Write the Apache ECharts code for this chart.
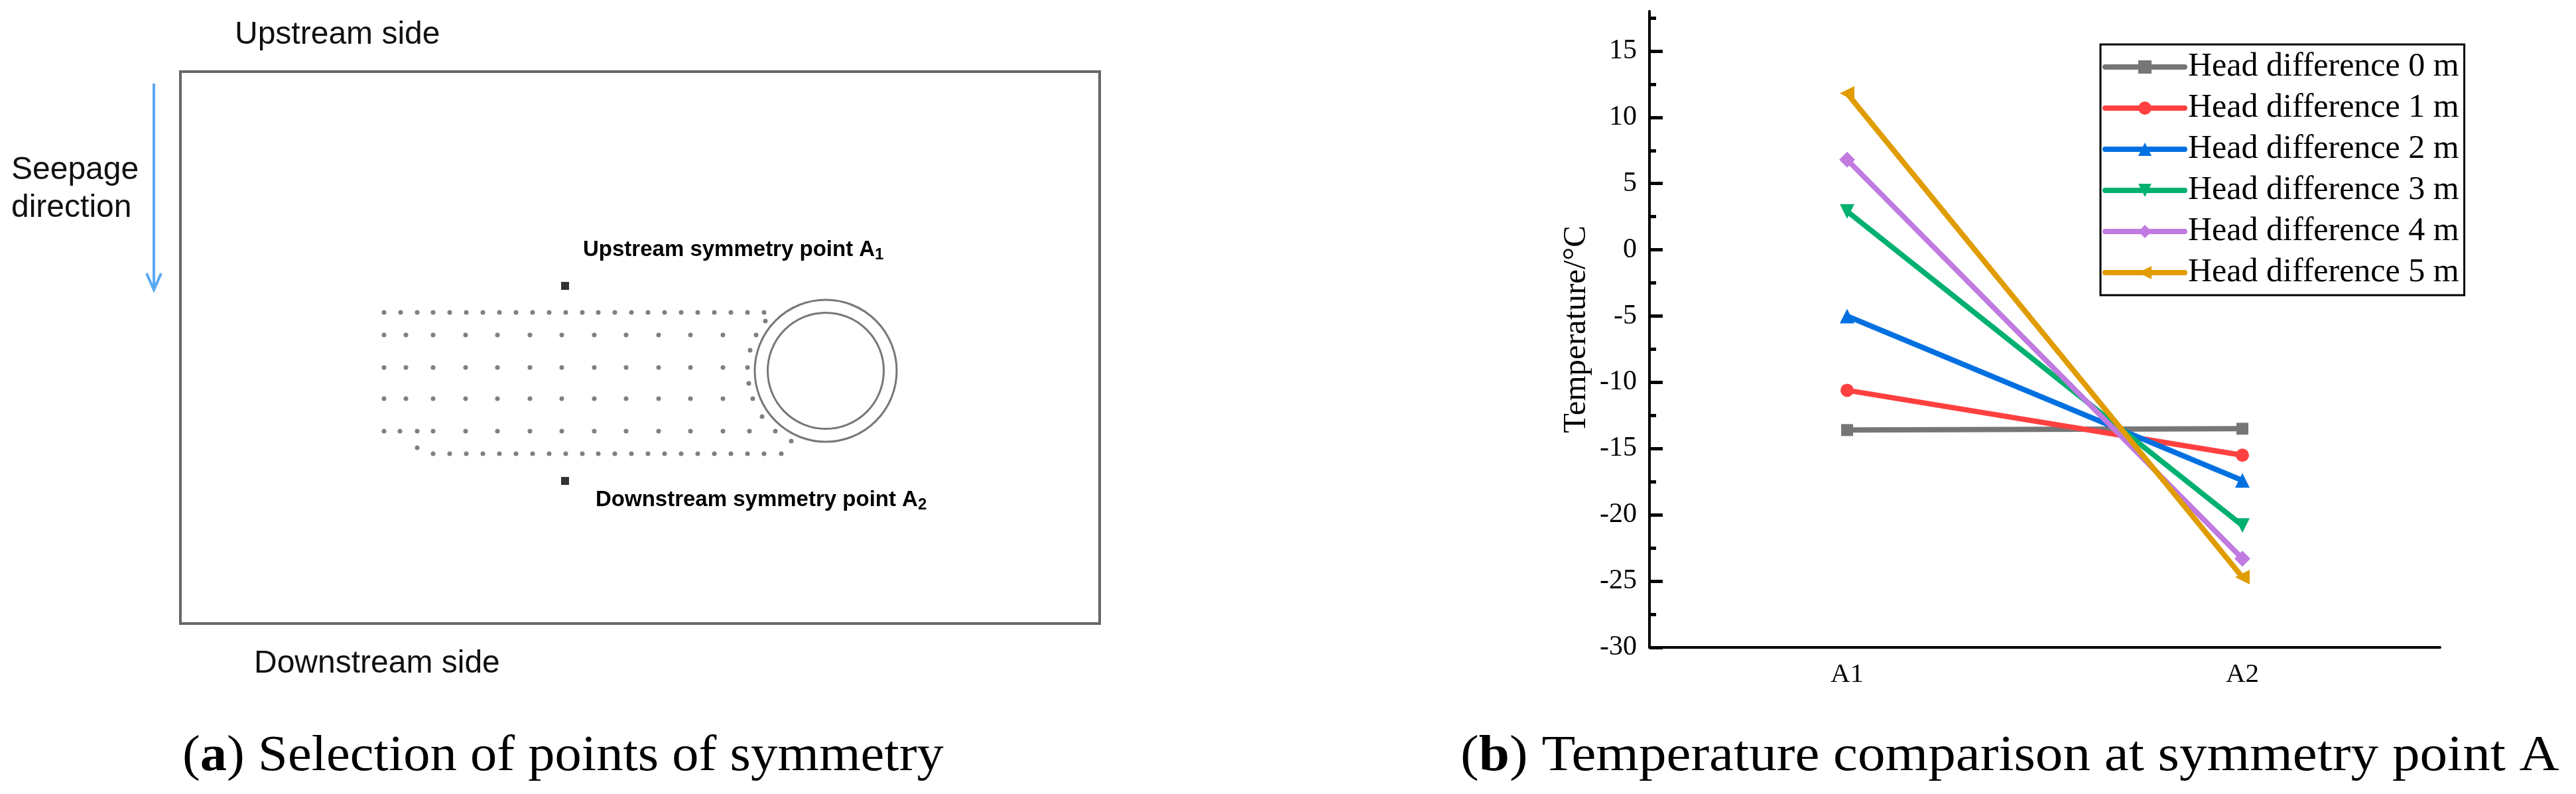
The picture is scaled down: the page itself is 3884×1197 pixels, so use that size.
<!DOCTYPE html>
<html>
<head>
<meta charset="utf-8">
<style>
  html, body { margin: 0; padding: 0; background: #fff; }
  #main { width: 3884px; height: 1197px; }
</style>
<script src="https://cdn.jsdelivr.net/npm/echarts@6/dist/echarts.min.js"></script>
</head>
<body>
<div id="main"></div>
<script>
// panel (b) data
var points = ['A1', 'A2'];
var seriesNames = ['Head difference 0 m', 'Head difference 1 m', 'Head difference 2 m',
  'Head difference 3 m', 'Head difference 4 m', 'Head difference 5 m'];
var head0 = [-13.6, -13.5];
var head1 = [-10.6, -15.5];
var head2 = [-5.0, -17.4];
var head3 = [2.9, -20.8];
var head4 = [6.8, -23.3];
var head5 = [11.8, -24.7];
var majorTicks = [-30, -25, -20, -15, -10, -5, 0, 5, 10, 15];
var minorTicks = [-27.5, -22.5, -17.5, -12.5, -7.5, -2.5, 2.5, 7.5, 12.5, 17.5];

// panel (a) diagram data, in units of the drawn box (1386 x 832)
var row1Dots = [[307,363],[332,363],[357,363],[381,363],[406,363],[431,363],[456,363],[481,363],[506,363],[531,363],[556,363],[581,363],[606,363],[630,363],[655,363],[680,363],[705,363],[730,363],[755,363],[780,363],[805,363],[830,363],[855,363],[880,363]];
var row2Dots = [[307,397],[340,397],[381,397],[430,397],[478,397],[527,397],[575,397],[624,397],[672,397],[721,397],[769,397],[818,397],[868,397]];
var row3Dots = [[307,446],[340,446],[381,446],[430,446],[478,446],[527,446],[575,446],[624,446],[672,446],[721,446],[769,446],[818,446],[855,446]];
var row4Dots = [[307,493],[340,493],[381,493],[430,493],[478,493],[527,493],[575,493],[624,493],[672,493],[721,493],[769,493],[818,493],[863,493]];
var row5Dots = [[307,542],[331,542],[357,542],[381,542],[430,542],[478,542],[527,542],[575,542],[624,542],[672,542],[721,542],[769,542],[818,542],[858,542],[897,542]];
var row6Dots = [[381,576],[406,576],[431,576],[456,576],[481,576],[506,576],[531,576],[556,576],[581,576],[606,576],[630,576],[655,576],[680,576],[705,576],[730,576],[755,576],[780,576],[805,576],[830,576],[855,576],[880,576],[906,576]];
var edgeDots = [[882,376],[859,420],[857,470],[877,520],[921,557],[357,567]];
var symmetryPoints = [[580,323],[580,617]];
var tunnelCentre = [[973,451]];

var colors = ['#767676', '#FF4040', '#0070E0', '#00B070', '#C07AE0', '#E09C00'];
var symbols = ['rect', 'circle', 'triangle', 'triangle', 'diamond', 'triangle'];
var rotations = [0, 0, 0, 180, 0, 90];
var sizes = [18, 20, 22, 22, 24, 22];
var headValues = [head0, head1, head2, head3, head4, head5];

var serifFont = '"Liberation Serif"';
var sansFont = '"Liberation Sans"';

var chart = echarts.init(document.getElementById('main'));

var series = [];
for (var i = 0; i < seriesNames.length; i++) {
  series.push({
    name: seriesNames[i],
    type: 'line',
    xAxisIndex: 0,
    yAxisIndex: 0,
    data: headValues[i],
    symbol: symbols[i],
    symbolRotate: rotations[i],
    symbolSize: sizes[i],
    showAllSymbol: true,
    animation: false,
    lineStyle: { color: colors[i], width: 8, cap: 'round' },
    itemStyle: { color: colors[i] }
  });
}

function dotSeries(rows, size, color) {
  return {
    type: 'scatter',
    xAxisIndex: 1,
    yAxisIndex: 2,
    data: rows,
    symbol: 'circle',
    symbolSize: size,
    animation: false,
    silent: true,
    itemStyle: { color: color }
  };
}

var allRows = [row1Dots, row2Dots, row3Dots, row4Dots, row5Dots, row6Dots, edgeDots];
for (var r = 0; r < allRows.length; r++) {
  series.push(dotSeries(allRows[r], 7, '#606060'));
}
series.push({
  type: 'scatter', xAxisIndex: 1, yAxisIndex: 2, data: symmetryPoints,
  symbol: 'rect', symbolSize: 12, animation: false, silent: true,
  itemStyle: { color: '#000' }
});
// the two rings of the tunnel
series.push({
  type: 'scatter', xAxisIndex: 1, yAxisIndex: 2, data: tunnelCentre,
  symbol: 'circle', symbolSize: 214, animation: false, silent: true,
  itemStyle: { color: 'transparent', borderColor: '#555', borderWidth: 3 }
});
series.push({
  type: 'scatter', xAxisIndex: 1, yAxisIndex: 2, data: tunnelCentre,
  symbol: 'circle', symbolSize: 175, animation: false, silent: true,
  itemStyle: { color: 'transparent', borderColor: '#555', borderWidth: 3 }
});

var subStyle = { font: 'bold 24px ' + sansFont, fill: '#000', verticalAlign: 'bottom', padding: [16, 0, 0, 0] };

var option = {
  backgroundColor: '#fff',
  animation: false,
  grid: [
    { left: 2487, top: 17, width: 1192, height: 959 },
    { left: 272, top: 108, width: 1386, height: 832, show: true, borderColor: '#666', borderWidth: 4, backgroundColor: 'transparent' }
  ],
  legend: {
    left: 3167,
    top: 67,
    orient: 'vertical',
    data: seriesNames,
    itemWidth: 120,
    itemHeight: 25,
    itemGap: 12,
    padding: [9, 8, 9, 3],
    borderColor: '#000',
    borderWidth: 3,
    backgroundColor: '#fff',
    lineStyle: { width: 'inherit', cap: 'round' },
    textStyle: { fontFamily: serifFont, fontSize: 50, lineHeight: 50, color: '#000' }
  },
  xAxis: [
    {
      type: 'category',
      gridIndex: 0,
      data: points,
      axisLine: { onZero: false, lineStyle: { color: '#000', width: 4 } },
      axisTick: { alignWithLabel: true, inside: true, length: 19, lineStyle: { color: '#000', width: 4 } },
      axisLabel: { fontFamily: serifFont, fontSize: 41, color: '#000', margin: 21 }
    },
    { type: 'value', gridIndex: 1, min: 0, max: 1386, show: false }
  ],
  yAxis: [
    {
      type: 'value',
      gridIndex: 0,
      min: -30,
      max: 18,
      name: 'Temperature/\u00B0C',
      nameLocation: 'middle',
      nameGap: 85,
      nameTextStyle: { fontFamily: serifFont, fontSize: 49, color: '#000' },
      splitLine: { show: false },
      axisLine: { show: true, onZero: false, lineStyle: { color: '#000', width: 4 } },
      axisTick: { show: true, inside: true, length: 20, customValues: majorTicks, lineStyle: { color: '#000', width: 5 } },
      axisLabel: { fontFamily: serifFont, fontSize: 42, color: '#000', margin: 19, customValues: majorTicks }
    },
    {
      type: 'value',
      gridIndex: 0,
      position: 'left',
      min: -30,
      max: 18,
      splitLine: { show: false },
      axisLine: { show: false },
      axisLabel: { show: false },
      axisTick: { show: true, inside: true, length: 10, customValues: minorTicks, lineStyle: { color: '#000', width: 5 } }
    },
    { type: 'value', gridIndex: 1, min: 0, max: 832, inverse: true, show: false }
  ],
  series: series,
  graphic: [
    // seepage arrow
    { type: 'polyline', silent: true, shape: { points: [[232, 126], [232, 435]] }, style: { stroke: '#5BA8F5', lineWidth: 4, fill: null } },
    { type: 'polyline', silent: true, shape: { points: [[221, 412], [232, 437], [243, 412]] }, style: { stroke: '#5BA8F5', lineWidth: 4, fill: null } },
    { type: 'text', silent: true, left: 354, top: 29, style: { text: 'Upstream side', font: '48px ' + sansFont, fill: '#111' } },
    { type: 'text', silent: true, left: 383, top: 977, style: { text: 'Downstream side', font: '48px ' + sansFont, fill: '#111' } },
    { type: 'text', silent: true, left: 17, top: 228, style: { text: 'Seepage\ndirection', font: '48px ' + sansFont, lineHeight: 57, fill: '#111' } },
    {
      type: 'text', silent: true, left: 879, top: 360,
      style: {
        text: 'Upstream symmetry point A{sub|1}',
        font: 'bold 33px ' + sansFont,
        fill: '#000',
        rich: { sub: subStyle }
      }
    },
    {
      type: 'text', silent: true, left: 898, top: 737,
      style: {
        text: 'Downstream symmetry point A{sub|2}',
        font: 'bold 33px ' + sansFont,
        fill: '#000',
        rich: { sub: subStyle }
      }
    },
    // captions, Liberation Serif stretched to the width of the original book face
    {
      type: 'text', silent: true, x: 275, y: 1103, scaleX: 1.06,
      style: {
        text: '({bold|a}) Selection of points of symmetry',
        font: '76px ' + serifFont,
        fill: '#000',
        rich: { bold: { font: 'bold 76px ' + serifFont, fill: '#000' } }
      }
    },
    {
      type: 'text', silent: true, x: 2202, y: 1103, scaleX: 1.094,
      style: {
        text: '({bold|b}) Temperature comparison at symmetry point A',
        font: '76px ' + serifFont,
        fill: '#000',
        rich: { bold: { font: 'bold 76px ' + serifFont, fill: '#000' } }
      }
    }
  ]
};

chart.setOption(option);
window.onresize = chart.resize;
</script>
</body>
</html>
